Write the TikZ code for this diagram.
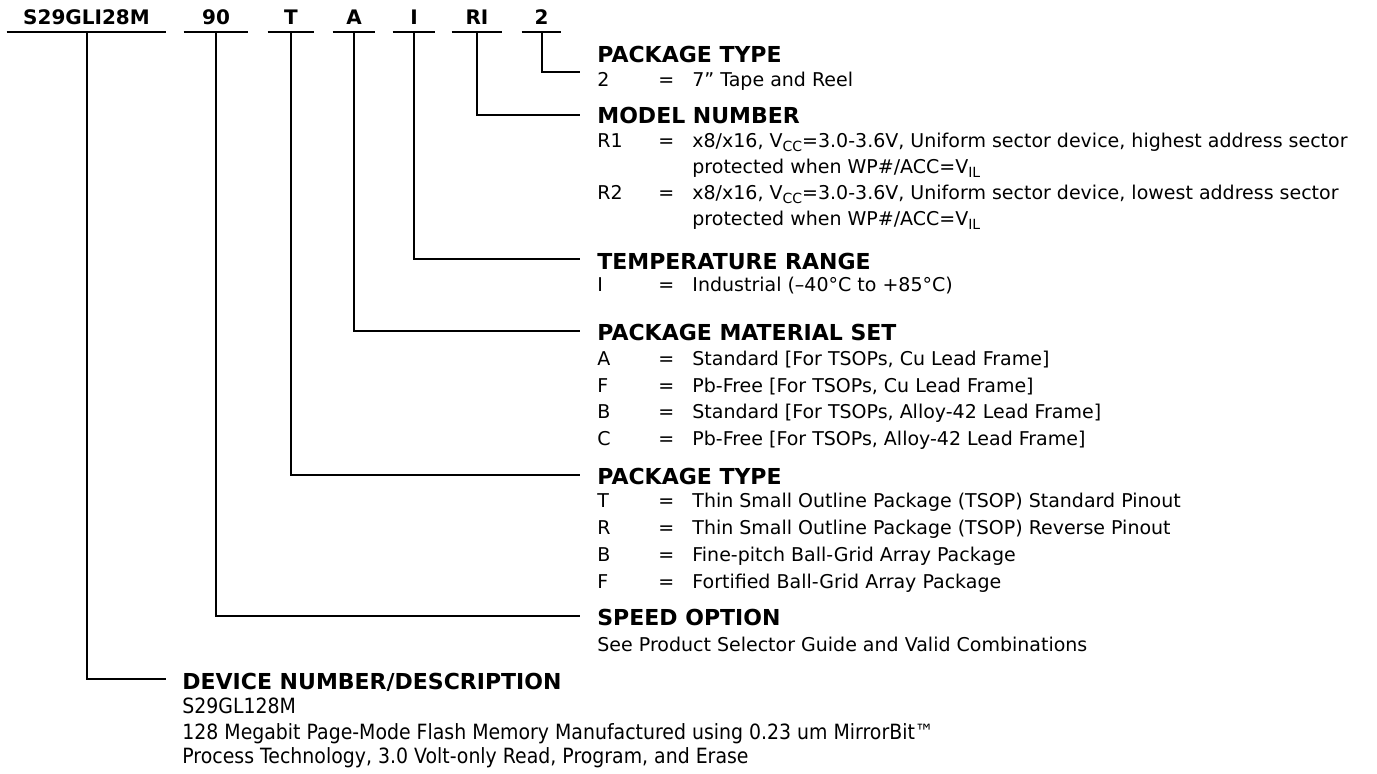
\documentclass[tikz,border=0pt]{standalone}
\usepackage{fontspec}
\setmainfont{DejaVu Sans}
\newfontfamily\narrowfont{DejaVu Sans}[FakeStretch=0.9]
\usetikzlibrary{calc}
\newcommand\lowidx[1]{\raisebox{-0.4ex}{\fontsize{7pt}{8pt}\selectfont #1}}

\begin{document}
\begin{tikzpicture}[x=0.5pt, y=-0.5pt,
		code/.style={font=\fontsize{10pt}{12pt}\bfseries, inner xsep=0pt, inner ysep=3.5pt, text depth=0pt, anchor=south},
		head/.style={font=\fontsize{11pt}{13pt}\bfseries, inner sep=0pt, text depth=0pt, anchor=base west},
		item/.style={font=\fontsize{9.5pt}{12pt}\selectfont, inner sep=0pt, anchor=base west},
		desc/.style={font=\fontsize{10.5pt}{12pt}\narrowfont, inner sep=0pt, anchor=base west},
		lead/.style={line width=1pt}]
	\def\hx{597};
	\def\ex{658};
	\def\dx{692};

	\useasboundingbox (0,0) rectangle (1377,774);

	% ordering code
	\node[code, minimum width=79.5pt] (dev) at (86.5,32) {S29GLI28M};
	\node[code, minimum width=32pt] (speed) at (216,32) {90};
	\node[code, minimum width=23pt] (pkg) at (291,32) {T};
	\node[code, minimum width=21pt] (mat) at (354,32) {A};
	\node[code, minimum width=21pt] (temp) at (414,32) {I};
	\node[code, minimum width=25pt] (model) at (477,32) {RI};
	\node[code, minimum width=19.5pt] (pack) at (541.5,32) {2};
	\foreach \n in {dev, speed, pkg, mat, temp, model, pack}
		\draw[lead] (\n.south west) -- (\n.south east);

	% headings
	\node[head] (hpack) at (\hx,62.5) {PACKAGE TYPE};
	\node[head] (hmodel) at (\hx,123.5) {MODEL NUMBER};
	\node[head] (htemp) at (\hx,269.5) {TEMPERATURE RANGE};
	\node[head] (hmat) at (\hx,340.5) {PACKAGE MATERIAL SET};
	\node[head] (hpkg) at (\hx,484.5) {PACKAGE TYPE};
	\node[head] (hspeed) at (\hx,625.5) {SPEED OPTION};
	\node[head] (hdev) at (182,689.5) {DEVICE NUMBER/DESCRIPTION};

	% leaders
	\draw[lead] (pack.south) |- ($(hpack.west)+(-17,18)$);
	\draw[lead] (model.south) |- ($(hmodel.west)+(-17,0)$);
	\draw[lead] (temp.south) |- ($(htemp.west)+(-17,-2)$);
	\draw[lead] (mat.south) |- ($(hmat.west)+(-17,-1.5)$);
	\draw[lead] (pkg.south) |- ($(hpkg.west)+(-17,-1.5)$);
	\draw[lead] (speed.south) |- ($(hspeed.west)+(-17,-1.5)$);
	\draw[lead] (dev.south) |- ($(hdev.west)+(-16,-2)$);

	% options
	\foreach \y/\key/\txt [count=\i] in {
			86.5/2/{7” Tape and Reel},
			147.5/R1/{x8/x16, V\lowidx{CC}=3.0-3.6V, Uniform sector device, highest address sector},
			199.5/R2/{x8/x16, V\lowidx{CC}=3.0-3.6V, Uniform sector device, lowest address sector},
			291.5/I/{Industrial (–40°C to +85°C)},
			366/A/{Standard [For TSOPs, Cu Lead Frame]},
			392.5/F/{Pb-Free [For TSOPs, Cu Lead Frame]},
			419/B/{Standard [For TSOPs, Alloy-42 Lead Frame]},
			445.5/C/{Pb-Free [For TSOPs, Alloy-42 Lead Frame]},
			508/T/{Thin Small Outline Package (TSOP) Standard Pinout},
			535/R/{Thin Small Outline Package (TSOP) Reverse Pinout},
			561.5/B/{Fine-pitch Ball-Grid Array Package},
			588.5/F/{Fortified Ball-Grid Array Package}} {
		\node[item] (key\i) at (\hx,\y) {\key};
		\node[item] (eq\i) at (\ex,\y) {=};
		\node[item] (opt\i) at (\dx,\y) {\txt};
	}
	\node[item] (prot1) at (\dx,173.5) {protected when WP\#/ACC=V\lowidx{IL}};
	\node[item] (prot2) at (\dx,225.5) {protected when WP\#/ACC=V\lowidx{IL}};
	\node[item] (speedtxt) at (\hx,651.5) {See Product Selector Guide and Valid Combinations};

	\node[desc] (devname) at (182,713.5) {S29GL128M};
	\node[desc] (devtxt1) at (182,740) {128 Megabit Page-Mode Flash Memory Manufactured using 0.23 um MirrorBit™};
	\node[desc] (devtxt2) at (182,763.5) {Process Technology, 3.0 Volt-only Read, Program, and Erase};
\end{tikzpicture}
\end{document}
